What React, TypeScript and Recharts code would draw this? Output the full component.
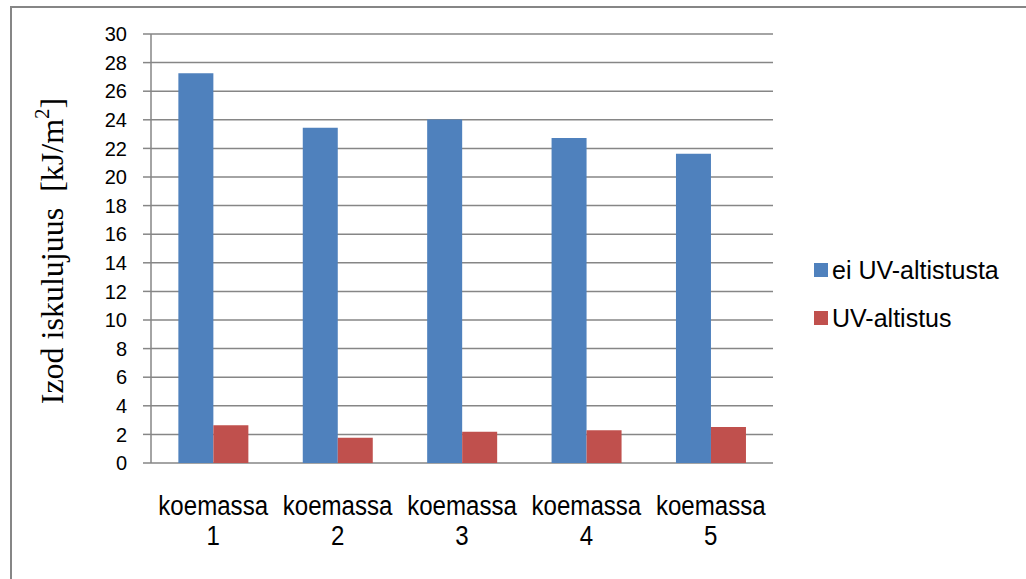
import React from 'react';
import { BarChart, Bar, XAxis, YAxis, CartesianGrid, Legend } from 'recharts';

const categories = ['koemassa 1', 'koemassa 2', 'koemassa 3', 'koemassa 4', 'koemassa 5'];
const noUV = [27.25, 23.45, 24.02, 22.72, 21.63];
const withUV = [2.64, 1.76, 2.19, 2.29, 2.52];
const seriesNames = ['ei UV-altistusta', 'UV-altistus'];
const yTicks = [0, 2, 4, 6, 8, 10, 12, 14, 16, 18, 20, 22, 24, 26, 28, 30];
const edgeTicks = [0, 1, 2, 3, 4, 5];

const data = categories.map((c, i) => ({ name: c, noUV: noUV[i], withUV: withUV[i], pos: i + 0.5 }));

const BLUE = '#4F81BD';
const RED = '#C0504D';
const AXIS = '#868686';
const SANS = "'Liberation Sans', Arial, sans-serif";

const CatTick = (props: any) => {
  const { x, y, payload } = props;
  const parts = String(payload.value).split(' ');
  const sx = 0.86;
  return (
    <g transform={`translate(${x} ${y}) scale(${sx} 1)`}>
      <text x={0} y={0} textAnchor="middle" fill="#000" fontFamily={SANS} fontSize={28}>
        <tspan x={0} dy={44}>{parts[0]}</tspan>
        <tspan x={0} dy={30}>{parts[1]}</tspan>
      </text>
    </g>
  );
};

const YLabel = () => {
  const cx = 52;
  const cy = 251;
  return (
    <text x={cx} y={cy} transform={`rotate(-90 ${cx} ${cy})`} textAnchor="middle" dominantBaseline="central" fill="#000" fontFamily="'Liberation Serif', 'Times New Roman', serif" fontSize={32}>
      <tspan>{'Izod iskulujuus \u00A0[kJ/m'}</tspan>
      <tspan dy={-10} fontSize={21}>2</tspan>
      <tspan dy={10}>]</tspan>
    </text>
  );
};

const LegendContent = (props: any) => {
  const payload = [...(props.payload || [])].sort(
    (a: any, b: any) => seriesNames.indexOf(a.value) - seriesNames.indexOf(b.value)
  );
  return (
    <div>
      {payload.map((e: any, i: number) => (
        <div key={i} style={{ display: 'flex', alignItems: 'center', height: 48, fontFamily: SANS, fontSize: 25, color: '#000', whiteSpace: 'nowrap' }}>
          <span style={{ display: 'inline-block', width: 14, height: 14, background: e.color, marginRight: 4 }} />
          <span>{e.value}</span>
        </div>
      ))}
    </div>
  );
};

export default function App() {
  return (
    <div style={{ position: 'absolute', left: 0, top: 0, width: 1026, height: 579, overflow: 'hidden', background: '#fff' }}>
      <div style={{ position: 'absolute', left: 10, top: 6, width: 1200, height: 800, border: `2px solid ${AXIS}`, boxSizing: 'border-box' }} />
      <div style={{ position: 'absolute', left: 0, top: 0 }}>
        <BarChart width={1026} height={579} data={data} margin={{ top: 34, right: 253, bottom: 0, left: 0 }} barCategoryGap="22%" barGap={0}>
          <CartesianGrid horizontal vertical={false} stroke={AXIS} strokeWidth={1.5} />
          <XAxis xAxisId="edges" dataKey="pos" type="number" domain={[0, 5]} ticks={edgeTicks} tick={false} tickSize={7} height={0} axisLine={{ stroke: AXIS, strokeWidth: 1.5 }} tickLine={{ stroke: AXIS, strokeWidth: 1.5 }} allowDataOverflow />
          <XAxis xAxisId="cat" dataKey="name" height={116} axisLine={false} tickLine={false} tick={<CatTick />} interval={0} />
          <YAxis width={151} domain={[0, 30]} ticks={yTicks} interval={0} tickSize={8} tickMargin={16} axisLine={{ stroke: AXIS, strokeWidth: 1.5 }} tickLine={{ stroke: AXIS, strokeWidth: 1.5 }} tick={{ fill: '#000', fontSize: 20, fontFamily: SANS }} label={<YLabel />} />
          <Bar xAxisId="cat" dataKey="noUV" name={seriesNames[0]} fill={BLUE} isAnimationActive={false} />
          <Bar xAxisId="cat" dataKey="withUV" name={seriesNames[1]} fill={RED} isAnimationActive={false} />
          <Legend layout="vertical" align="center" verticalAlign="middle" content={<LegendContent />} wrapperStyle={{ left: 814, top: 246, width: 212, height: 100 }} />
        </BarChart>
      </div>
    </div>
  );
}
